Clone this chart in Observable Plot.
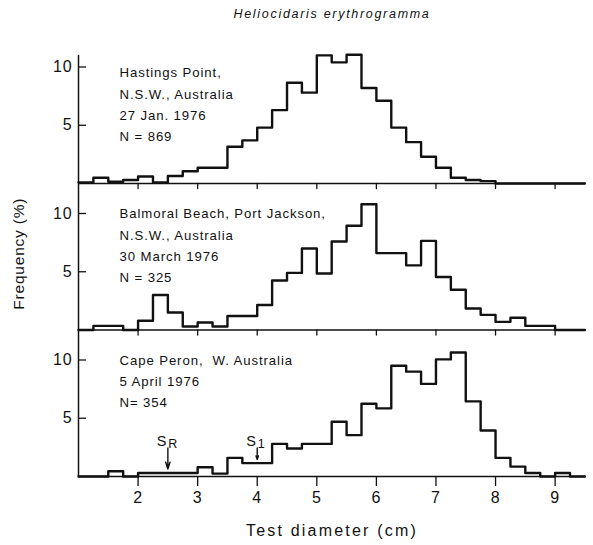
<!DOCTYPE html>
<html><head><meta charset="utf-8">
<script src="https://cdn.jsdelivr.net/npm/d3@7"></script>
<script src="https://cdn.jsdelivr.net/npm/@observablehq/plot@0.6"></script>
<style>
body{margin:0;background:#fff}
svg{font-family:"Liberation Sans",Arial,Helvetica,sans-serif}
</style>
</head><body><div id="chart"></div>
<script>
// bin left edges (cm) and right edge of last bin
const binStarts = [1.00,1.25,1.50,1.75,2.00,2.25,2.50,2.75,3.00,3.25,3.50,3.75,4.00,4.25,4.50,4.75,5.00,5.25,5.50,5.75,6.00,6.25,6.50,6.75,7.00,7.25,7.50,7.75,8.00,8.25,8.50,8.75,9.00,9.25];
const binEnd = 9.50;
const hastings = [0.1,0.5,0.15,0.3,0.6,0.1,0.65,1.05,1.35,1.35,3.15,3.7,4.8,6.3,8.65,7.8,11.0,10.4,11.05,8.2,7.1,4.8,3.55,2.3,1.35,0.5,0.3,0.2,0,0,0,0,0,0];
const balmoral = [0,0.35,0.35,0,0.8,3.0,1.5,0.3,0.65,0.3,1.2,1.2,2.15,4.25,4.9,7.0,4.85,7.6,8.95,10.8,6.6,6.6,5.55,7.65,4.55,3.45,1.85,1.3,0.7,1.05,0.35,0.35,0,0];
const capePeron = [0,0,0.45,0,0.3,0.3,0.3,0.3,0.8,0.25,1.6,1.15,1.15,2.8,2.4,2.8,2.8,4.7,3.55,6.25,5.85,9.5,9.0,7.95,10.05,10.65,6.45,3.95,1.6,0.85,0.3,0,0.3,0];
const panels = ["Hastings Point", "Balmoral Beach", "Cape Peron"];
const panelTexts = [
  "Hastings Point,\nN.S.W., Australia\n27 Jan. 1976\nN = 869",
  "Balmoral Beach, Port Jackson,\nN.S.W., Australia\n30 March 1976\nN = 325",
  "Cape Peron,  W. Australia\n5 April 1976\nN= 354"
];
const xTicks = [2,3,4,5,6,7,8,9];
const yTicks = [5,10];
const titleText = "Heliocidaris erythrogramma";
const xLabel = "Test diameter (cm)";
const yLabel = "Frequency (%)";
const markerLabels = ["S", "S"];
const markerSubs = ["R", "1"];
const markerX = [2.5, 4.0];
const markerTip = [0.65, 1.45];
const markerTop = [2.45, 2.45];
const axisTop = [11, 12.575, 12.575];

const series = [hastings, balmoral, capePeron];
const rows = [];
panels.forEach((p, k) => {
  binStarts.forEach((x, i) => rows.push({panel: p, x, v: series[k][i]}));
  rows.push({panel: p, x: binEnd, v: 0});
});
const baseRows = panels.map(p => ({panel: p, y: 0}));
const leftRows = panels.map((p, k) => ({panel: p, x: 1, top: axisTop[k]}));
const xTickRows = [];
panels.slice(0, 2).forEach(p => xTicks.forEach(t => xTickRows.push({panel: p, x: t, y: 0})));
const markers = markerX.map((x, i) => ({panel: panels[2], x, tip: markerTip[i], top: markerTop[i], label: markerLabels[i], sub: markerSubs[i]}));
const ink = "#111";
const lineDown = {draw(ctx, l) { ctx.moveTo(0, 0); ctx.lineTo(0, -l); }};

const textMark = (k, dy) => Plot.text([{panel: panels[k], t: panelTexts[k]}], {
  fy: "panel", text: "t", frameAnchor: "top-left", dx: 41, dy, lineAnchor: "top",
  textAnchor: "start", lineHeight: 1.6, fontSize: 13.2, fill: ink
});

const chart = Plot.plot({
  width: 593, height: 545,
  marginLeft: 78, marginRight: 8, marginTop: 36.5, marginBottom: 69,
  x: {domain: [1, 9.51]},
  y: {domain: [0, 12.575]},
  fy: {domain: panels, axis: null, padding: 0, round: false},
  style: {background: "#fff", color: ink},
  marks: [
    Plot.ruleY(baseRows, {fy: "panel", y: "y", stroke: ink, strokeWidth: 1.5}),
    Plot.ruleX(leftRows, {fy: "panel", x: "x", y1: 0, y2: "top", stroke: ink, strokeWidth: 1.5}),
    Plot.vector(xTickRows, {fy: "panel", x: "x", y: "y", length: 5, rotate: 180, anchor: "start", shape: lineDown, stroke: ink, strokeWidth: 1.3}),
    Plot.axisY({ticks: yTicks, tickSize: -8, tickPadding: 14, fontSize: 16, label: null, stroke: ink, strokeWidth: 1.3, fill: ink}),
    Plot.axisX({ticks: xTicks, tickSize: 10, tickPadding: 5, fontSize: 16, label: null, stroke: ink, strokeWidth: 1.3, fill: ink}),
    Plot.line(rows, {fy: "panel", x: "x", y: "v", z: "panel", curve: "step-after", stroke: ink, strokeWidth: 2.4}),
    textMark(0, 25.5),
    textMark(1, 20),
    textMark(2, 20),
    Plot.arrow(markers, {fy: "panel", x: "x", y1: "top", y2: "tip", stroke: ink, strokeWidth: 1.4, headLength: 8, headAngle: 36}),
    Plot.text(markers, {fy: "panel", x: "x", y: "top", text: "label", textAnchor: "end", lineAnchor: "bottom", dx: -0.5, dy: -2, fontSize: 14.5, fill: ink}),
    Plot.text(markers, {fy: "panel", x: "x", y: "top", text: "sub", textAnchor: "start", lineAnchor: "bottom", dx: 0.5, dy: 0, fontSize: 12.5, fill: ink}),
    Plot.text([{panel: panels[0], t: titleText}], {fy: "panel", text: "t", frameAnchor: "top", dy: -23, lineAnchor: "middle", fontSize: 12.5, fontStyle: "italic", fill: ink}),
    Plot.text([{panel: panels[1], t: yLabel}], {fy: "panel", text: "t", frameAnchor: "left", textAnchor: "middle", dx: -59, dy: -3, rotate: -90, lineAnchor: "middle", fontSize: 15.5, fill: ink}),
    Plot.text([{panel: panels[2], t: xLabel}], {fy: "panel", text: "t", frameAnchor: "bottom", dy: 54, lineAnchor: "middle", fontSize: 16, fill: ink})
  ]
});
document.getElementById("chart").appendChild(chart);
// typographic letter spacing like the original
d3.select(chart).selectAll("text").each(function() {
  const s = this.textContent;
  let ls = "0.9px";
  if (s === titleText) ls = "1.7px";
  else if (s === xLabel) ls = "2.2px";
  else if (s === yLabel) ls = "0.8px";
  d3.select(this).style("letter-spacing", ls);
});
</script>
</body></html>
